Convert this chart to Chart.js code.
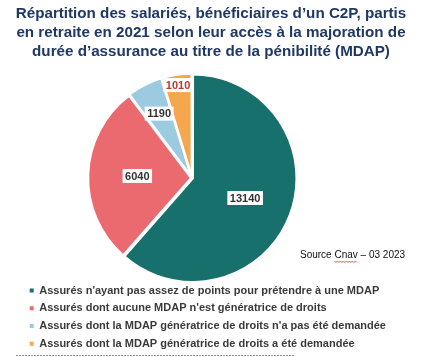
<!DOCTYPE html>
<html><head><meta charset="utf-8">
<script src="https://cdn.jsdelivr.net/npm/chart.js@4"></script>
<style>html,body{margin:0;padding:0;background:#fff;}#wrap{width:437px;height:357px;position:relative;}</style>
</head><body><div id="wrap"><canvas id="c" width="437" height="357"></canvas></div>
<script>
const titleLines = [
  'Répartition des salariés, bénéficiaires d’un C2P, partis',
  'en retraite en 2021 selon leur accès à la majoration de',
  'durée d’assurance au titre de la pénibilité (MDAP)'
];
const categories = [
  'Assurés n\'ayant pas assez de points pour prétendre à une MDAP',
  'Assurés dont aucune MDAP n\'est génératrice de droits',
  'Assurés dont la MDAP génératrice de droits n\'a pas été demandée',
  'Assurés dont la MDAP génératrice de droits a été demandée'
];
const values = [13140, 6040, 1190, 1010];
const colors = ['#17706b', '#ea6a6f', '#9ccae1', '#f4a74c'];
const labelColors = ['#333333', '#333333', '#333333', '#c0392b'];
const sourceText = 'Source Cnav – 03 2023';

const FONT = '"Liberation Sans", Arial, sans-serif';
const labelRadius = [0.55, 0.53, 0.70, 0.91];

const layoutFix = {
  id: 'layoutFix',
  afterLayout(chart) {
    const cx = 192, cy = 178, half = 106;
    chart.chartArea = {left: cx - half, right: cx + half, top: cy - half, bottom: cy + half, width: 2 * half, height: 2 * half};
    const lg = chart.legend;
    const dx = 23 - lg.left, dy = 278.4 - lg.top;
    lg.left += dx; lg.right += dx; lg.top += dy; lg.bottom += dy;
  }
};

const valueLabels = {
  id: 'valueLabels',
  afterDatasetsDraw(chart) {
    const ctx = chart.ctx;
    const meta = chart.getDatasetMeta(0);
    ctx.save();
    ctx.font = 'bold 11px ' + FONT;
    ctx.textAlign = 'center';
    ctx.textBaseline = 'middle';
    meta.data.forEach((arc, i) => {
      const p = arc.getProps(['x', 'y', 'startAngle', 'endAngle', 'outerRadius'], true);
      const mid = (p.startAngle + p.endAngle) / 2;
      const r = p.outerRadius * labelRadius[i];
      const x = p.x + Math.cos(mid) * r, y = p.y + Math.sin(mid) * r;
      const text = String(chart.data.datasets[0].data[i]);
      const w = ctx.measureText(text).width + 5, h = 14;
      ctx.fillStyle = '#ffffff';
      ctx.fillRect(x - w / 2, y - h / 2, w, h);
      ctx.fillStyle = labelColors[i];
      ctx.fillText(text, x, y + 0.5);
    });
    ctx.restore();
  }
};

const extras = {
  id: 'extras',
  afterDraw(chart) {
    const ctx = chart.ctx;
    ctx.save();
    ctx.font = '10px ' + FONT;
    ctx.fillStyle = '#111111';
    ctx.textAlign = 'left';
    ctx.textBaseline = 'middle';
    ctx.fillText(sourceText, 300, 255);
    const x0 = 300 + ctx.measureText('Source ').width;
    const x1 = x0 + ctx.measureText('Cnav').width;
    ctx.strokeStyle = '#d03030';
    ctx.lineWidth = 0.8;
    ctx.beginPath();
    for (let x = x0, k = 0; x <= x1; x += 1.5, k++) {
      const y = 261.5 + (k % 2 ? 1 : -0.5);
      if (k === 0) ctx.moveTo(x, y); else ctx.lineTo(x, y);
    }
    ctx.stroke();
    ctx.strokeStyle = '#8a8a8a';
    ctx.lineWidth = 1;
    ctx.setLineDash([2, 1]);
    ctx.beginPath();
    ctx.moveTo(16, 355.5);
    ctx.lineTo(295, 355.5);
    ctx.stroke();
    ctx.restore();
  }
};

new Chart(document.getElementById('c'), {
  type: 'pie',
  data: {
    labels: categories,
    datasets: [{
      data: values,
      backgroundColor: colors,
      borderColor: '#ffffff',
      borderWidth: 2.5,
      offset: 3
    }]
  },
  options: {
    responsive: false,
    animation: false,
    layout: {padding: {left: 0, right: 15, top: 0, bottom: 0}},
    plugins: {
      tooltip: {enabled: false},
      title: {
        display: true,
        text: titleLines,
        color: '#1f3864',
        font: {family: FONT, size: 15.2, weight: 'bold', lineHeight: 19 / 15.2},
        padding: {top: 4.5, bottom: 10}
      },
      legend: {
        display: true,
        position: 'bottom',
        align: 'start',
        labels: {
          boxWidth: 4,
          boxHeight: 4,
          padding: 6.7,
          color: '#3a3a3a',
          font: {family: FONT, size: 11, weight: 'bold'},
          generateLabels(chart) {
            const base = Chart.overrides.pie.plugins.legend.labels.generateLabels(chart);
            return base.map(l => Object.assign({}, l, {lineWidth: 0, strokeStyle: l.fillStyle}));
          }
        }
      }
    }
  },
  plugins: [layoutFix, valueLabels, extras]
});
</script></body></html>
